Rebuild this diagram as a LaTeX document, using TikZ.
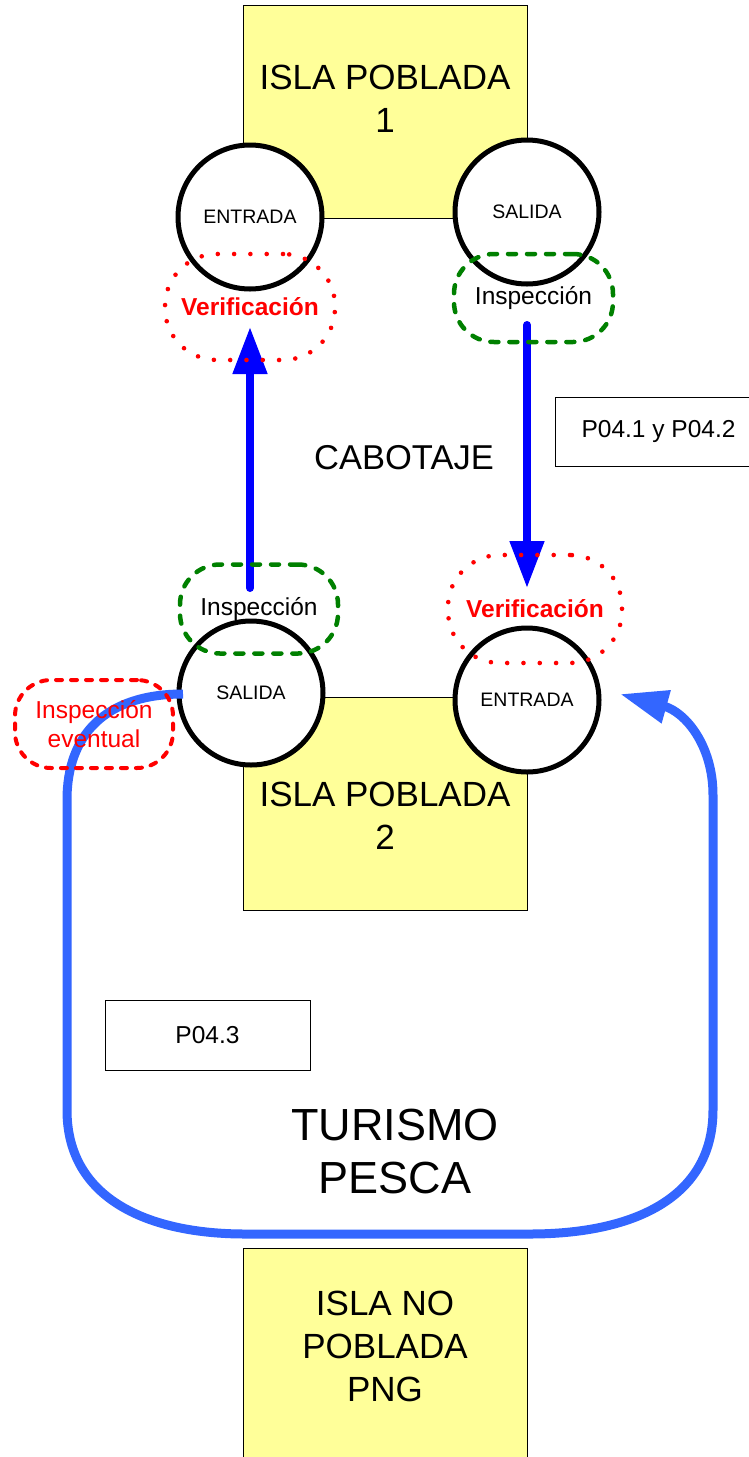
\documentclass[tikz,border=0pt]{standalone}
\usepackage{fontspec}
\setmainfont{Liberation Sans}
\usetikzlibrary{arrows.meta}
\definecolor{islayellow}{RGB}{255,255,153}
\definecolor{insgreen}{RGB}{0,128,0}
\definecolor{verred}{RGB}{255,0,0}
\definecolor{arrblue}{RGB}{0,0,255}
\definecolor{pathblue}{RGB}{51,102,255}
\newcommand{\myfs}[2]{\fontsize{#1}{#2}\selectfont}
\begin{document}
\begin{tikzpicture}[x=1pt,y=-1pt,
 islabox/.style={draw=black, line width=1pt, fill=islayellow, inner sep=0pt},
 islatext/.style={font=\myfs{35pt}{43pt}, align=center, inner sep=0pt},
 portcircle/.style={circle, draw=black, line width=5pt, fill=white, minimum size=144pt, inner sep=0pt, font=\myfs{19.5pt}{23pt}},
 inspbox/.style={draw=insgreen, line width=4.5pt, dash pattern=on 8pt off 11pt, line cap=round, rounded corners=40pt, inner sep=0pt, font=\myfs{24.5pt}{29pt}},
 verifbox/.style={draw=verred, line width=4.6pt, dash pattern=on 0pt off 16.3pt, line cap=round, rounded corners=52pt, inner sep=0pt, text=verred, font=\bfseries\myfs{24.5pt}{29pt}},
 eventbox/.style={draw=verred, line width=4pt, dash pattern=on 6pt off 9pt, line cap=round, rounded corners=36pt, inner sep=0pt, text=verred, align=center, font=\myfs{24.5pt}{29pt}},
 codebox/.style={draw=black, line width=1pt, fill=white, inner sep=0pt, font=\myfs{24.5pt}{29pt}},
 bluearrow/.style={draw=arrblue, line width=8pt, line cap=round, -{Triangle[length=47pt,width=33pt]}},
 bigarrow/.style={draw=pathblue, line width=9pt, -{Triangle[length=48pt,width=32pt]}},
 bigtext/.style={font=\myfs{45pt}{53pt}, align=center, inner sep=0pt}
]
\useasboundingbox (0,0) rectangle (749,1457);
\clip (0,0) rectangle (749,1457);

% islands
\node[islabox, minimum width=284pt, minimum height=213pt] (isla1) at (385,111.5) {};
\node[islabox, minimum width=284pt, minimum height=213pt] (isla2) at (385,803.5) {};
\node[islabox, minimum width=284pt, minimum height=240pt] (isla3) at (385,1368) {};
\node[islatext] (t1) at (385,98.5) {ISLA POBLADA\\1};
\node[islatext] (t2) at (385,816) {ISLA POBLADA\\2};
\node[islatext] (t3) at (385,1346.5) {ISLA NO\\POBLADA\\PNG};

\node[font=\myfs{34.5pt}{40pt}, inner sep=0pt] (cabotaje) at (404,458) {CABOTAJE};
\node[bigtext] (turismo) at (395,1151.5) {TURISMO\\PESCA};

% ports
\node[portcircle] (ent1) at (250,217) {ENTRADA};
\node[portcircle] (sal1) at (527,212) {SALIDA};
\node[portcircle] (sal2) at (251,693) {SALIDA};
\node[portcircle] (ent2) at (527,700) {ENTRADA};

% procedure boxes
\node[codebox, minimum width=207pt, minimum height=69pt] (p12) at (658.5,431.5) {P04.1 y P04.2};
\node[codebox, minimum width=205pt, minimum height=70pt] (p3) at (207.5,1035) {P04.3};

% arrows
\coordinate (upstart) at (250,588);
\coordinate (uptip) at (250,327);
\coordinate (dnstart) at (527,325);
\coordinate (dntip) at (527,588);
\coordinate (pstart) at (183,694);
\coordinate (ptip) at (620,694);
\draw[bluearrow] (upstart) -- (uptip);
\draw[bluearrow] (dnstart) -- (dntip);
\draw[bigarrow] (pstart) .. controls (105,694) and (67,735) .. (67,800)
  -- (67,1110) .. controls (67,1200) and (150,1234) .. (245,1234)
  -- (530,1234) .. controls (630,1234) and (713,1200) .. (713,1110)
  -- (713,795) .. controls (713,745) and (685,712) .. (ptip);

% control shapes
\node[verifbox, minimum width=170pt, minimum height=106pt] (verif1) at (250,307) {Verificación};
\node[inspbox, minimum width=159pt, minimum height=88pt] (insp1) at (533.5,298) {Inspección};
\node[inspbox, minimum width=158pt, minimum height=89pt] (insp2) at (259,609) {Inspección};
\node[verifbox, minimum width=174pt, minimum height=108pt] (verif2) at (535,609) {Verificación};
\node[eventbox, minimum width=158pt, minimum height=88pt] (event) at (94,724) {Inspección\\eventual};
\end{tikzpicture}
\end{document}
